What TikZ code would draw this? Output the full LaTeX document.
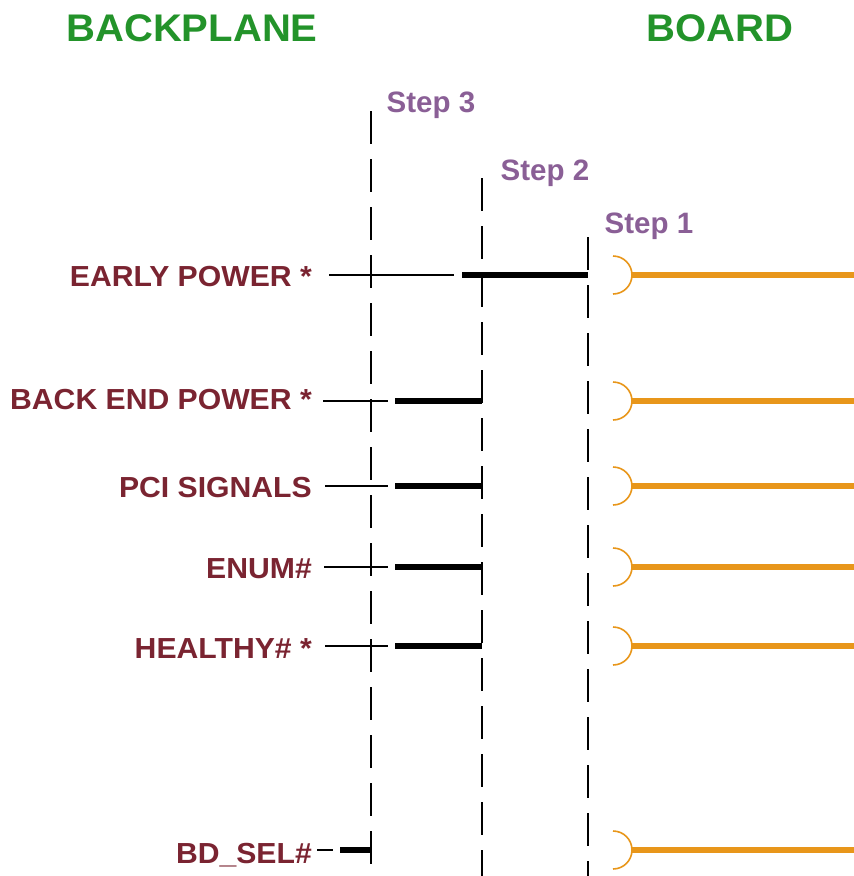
\documentclass[tikz,border=0pt]{standalone}
\usepackage{fontspec}
\setmainfont{Liberation Sans}
\newfontfamily\widesans[FakeStretch=1.04]{Liberation Sans}
\definecolor{headgreen}{HTML}{23932A}
\definecolor{sigred}{HTML}{7A2431}
\definecolor{steppurple}{HTML}{8A5F96}
\definecolor{pinorange}{HTML}{E8961A}
\begin{document}
\begin{tikzpicture}[x=1pt,y=-1pt,
  header/.style={text=headgreen, font=\widesans\bfseries\fontsize{38.5}{38.5}\selectfont, inner sep=0pt},
  steplabel/.style={text=steppurple, font=\bfseries\fontsize{29.5}{29.5}\selectfont, inner sep=0pt, anchor=base west},
  signal/.style={text=sigred, font=\widesans\bfseries\fontsize{29}{29}\selectfont, inner sep=0pt, anchor=base east},
  stepline/.style={line width=2pt, dash pattern=on 33pt off 15pt},
  lead/.style={line width=1.8pt},
  contact/.style={line width=6.5pt},
  pin/.style={draw=pinorange, line width=6pt},
  cup/.style={draw=pinorange, line width=1.6pt}]
\useasboundingbox (0,0) rectangle (854,876);

% column headings
\node[header] (backplane) at (192,28.7) {BACKPLANE};
\node[header] (board) at (720,28.7) {BOARD};

% mating steps
\node[steplabel] (step3) at (386.5,112) {Step 3};
\node[steplabel] (step2) at (500.5,180) {Step 2};
\node[steplabel] (step1) at (604.5,233) {Step 1};

\coordinate (s3top) at (371,111);  \coordinate (s3bot) at (371,864);
\coordinate (s2top) at (482,178);  \coordinate (s2bot) at (482,876);
\coordinate (s1top) at (588,237);  \coordinate (s1bot) at (588,876);
\draw[stepline] (s3top) -- (s3bot);
\draw[stepline] (s2top) -- (s2bot);
\draw[stepline] (s1top) -- (s1bot);

% signal names
\node[signal] (early)   at (312,286.7) {EARLY POWER *};
\node[signal] (backend) at (312,409.3) {BACK END POWER *};
\node[signal] (pci)     at (312,497)   {PCI SIGNALS};
\node[signal] (enum)    at (312,578)   {ENUM\#};
\node[signal] (healthy) at (312,658)   {HEALTHY\# *};
\node[signal] (bdsel)   at (312,863)   {BD\_SEL\#};

% backplane pins (lead + contact) and board receptacles
\foreach \n/\y/\la/\lb/\ca/\cb in {
    early/275/329/454/462/588,
    backend/401/323/388/395/482,
    pci/486/325/388/395/482,
    enum/567/324/388/395/482,
    healthy/646/325/388/395/482,
    bdsel/850/317/333/340/371}{
  \coordinate (\n-la) at (\la,\y);
  \coordinate (\n-lb) at (\lb,\y);
  \coordinate (\n-ca) at (\ca,\y);
  \coordinate (\n-cb) at (\cb,\y);
  \coordinate (\n-cup) at (613,\y-19);
  \coordinate (\n-pa) at (632,\y);
  \coordinate (\n-pb) at (854,\y);
  \draw[lead] (\n-la) -- (\n-lb);
  \draw[contact] (\n-ca) -- (\n-cb);
  \draw[cup] (\n-cup) arc[start angle=-90, end angle=90, radius=19];
  \draw[pin] (\n-pa) -- (\n-pb);
}
\end{tikzpicture}
\end{document}
